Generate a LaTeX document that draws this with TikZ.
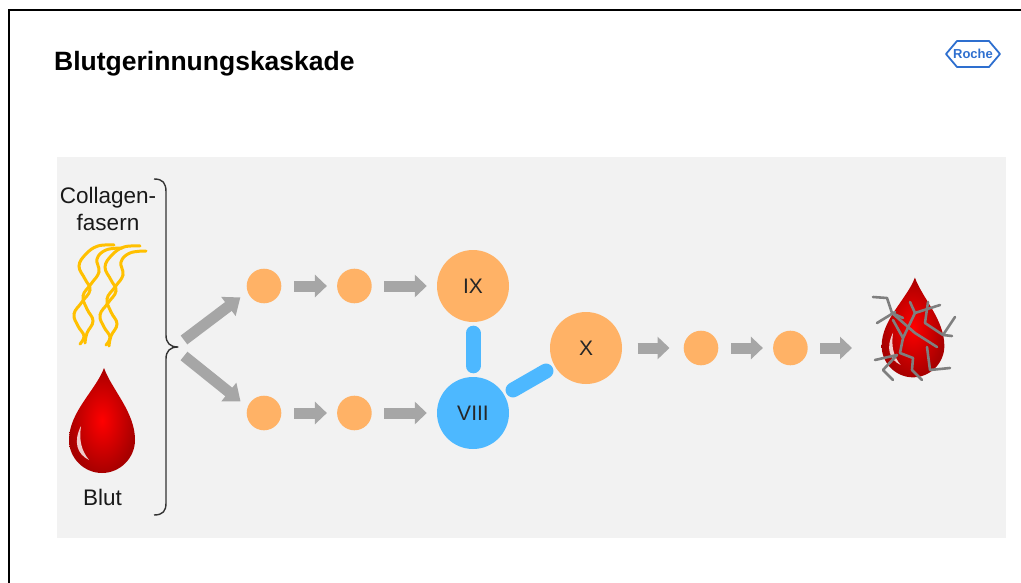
\documentclass[tikz,border=0pt]{standalone}
\usepackage{fontspec}
\setmainfont{Liberation Sans}
\usetikzlibrary{arrows.meta,positioning,calc}

\definecolor{panelgray}{HTML}{F2F2F2}
\definecolor{factororange}{HTML}{FFB266}
\definecolor{factorblue}{HTML}{4DB8FF}
\definecolor{arrowgray}{HTML}{A6A6A6}
\definecolor{fibreyellow}{HTML}{FFC000}
\definecolor{rocheblue}{HTML}{2E6FCF}
\definecolor{darkblood}{HTML}{A80000}
\definecolor{clotgray}{HTML}{7F7F7F}

% blood drop, origin at the centre of its round part
\tikzset{
  drop/.pic={
    \shade[inner color=red, outer color=darkblood]
      (2,-72) .. controls (10,-50) and (33,-28) .. (33,0)
      .. controls (33,18) and (18,33) .. (0,33)
      .. controls (-18,33) and (-33,18) .. (-33,0)
      .. controls (-33,-28) and (-6,-50) .. (2,-72) -- cycle;
    \fill[white, opacity=0.8]
      (-21,-14) .. controls (-29,2) and (-25,14) .. (-13,20)
      .. controls (-21,10) and (-23,0) .. (-21,-14) -- cycle;
  }
}

\begin{document}
\begin{tikzpicture}[x=1pt,y=-1pt,
    label text/.style={inner sep=0pt, anchor=base, font=\fontsize{22.5}{27}\selectfont, text=black!90},
    small factor/.style={circle, fill=factororange, minimum size=34.6pt, inner sep=0pt},
    big factor/.style={circle, fill=factororange, minimum size=72pt, inner sep=0pt, font=\fontsize{21}{25}\selectfont, text=black!85},
    step arrow/.style={arrowgray, line width=11pt, -{Triangle[width=22pt,length=12pt]}, shorten <=12.5pt, shorten >=10pt},
    fork arrow/.style={arrowgray, line width=11pt, -{Triangle[width=23pt,length=15pt]}, shorten >=9pt},
    link/.style={factorblue, line width=15pt, line cap=round, shorten <=11pt, shorten >=11pt},
    fibre/.style={fibreyellow, line width=3pt, line cap=round},
    clotline/.style={clotgray, line width=2.6pt, line join=round, line cap=round}]

    \useasboundingbox (0,0) rectangle (1021,583);

    % frame and panel
    \draw[line width=1.2pt] (9,583) -- (9,10) -- (1021,10);
    \fill[panelgray] (57,157) rectangle (1006,538);

    % heading and logo
    \node[inner sep=0pt, anchor=base west, font=\bfseries\fontsize{26.5}{31}\selectfont] (title) at (54,70.7) {Blutgerinnungskaskade};
    \node[inner sep=0pt, font=\bfseries\fontsize{13}{15}\selectfont, text=rocheblue] (roche) at (973,54) {Roche};
    \draw[rocheblue, line width=1.8pt, line join=round]
        ($(roche.center)+(-27,0)$) -- ++(11,-13) -- ++(32,0) -- ++(11,13)
        -- ++(-11,13) -- ++(-32,0) -- cycle;

    % collagen fibres
    \foreach \dx/\dy in {0/0, 26/1}{
        \begin{scope}[shift={(\dx,\dy)}]
            \draw[fibre] plot[smooth, tension=0.7] coordinates {(114,245) (98,246) (86,254) (79,266) (85,279) (90,290) (82,302) (74,314) (78,326) (84,336) (80,344)};
        \end{scope}
    }
    \foreach \dx/\dy in {0/0, 24/3}{
        \begin{scope}[shift={(\dx,\dy)}]
            \draw[fibre] plot[smooth, tension=0.7] coordinates {(122,248) (106,250) (97,259) (99,272) (91,284) (83,296) (87,309) (93,321) (87,333) (85,343)};
        \end{scope}
    }
    \node[label text] (collagen) at (108,203.3) {Collagen-};
    \node[label text] (fasern) at (108,230) {fasern};

    % blood
    \pic at (102,440) {drop};
    \node[label text] (blut) at (102.5,505) {Blut};

    % brace
    \draw[black!80, line width=1.4pt, line join=round]
        (154,179) .. controls (163,179) and (166,183) .. (166,192) -- (166,335)
        .. controls (166,343) and (170,347) .. (178,347)
        .. controls (170,347) and (166,351) .. (166,359) -- (166,503)
        .. controls (166,511) and (163,515) .. (154,515);
    \coordinate (forkup) at (184,340);
    \coordinate (forkdown) at (184,356);

    % factors
    \node[small factor] (a1) at (264,286) {};
    \node[small factor] (a2) [right=55.4pt of a1] {};
    \node[big factor] (IX) at (473,286) {IX};
    \node[small factor] (b1) at (264,413) {};
    \node[small factor] (b2) [right=55.4pt of b1] {};
    \node[big factor, fill=factorblue] (VIII) at (473,413) {VIII};
    \node[big factor] (X) at (586,348) {X};
    \node[small factor] (c1) at (701,348) {};
    \node[small factor] (c2) [right=54.4pt of c1] {};
    \coordinate (clot) at (862,348);

    \path
        (forkup) edge[fork arrow] (a1.200)
        (forkdown) edge[fork arrow] (b1.160)

        (a1) edge[step arrow] (a2)
        (a2) edge[step arrow] (IX)
        (b1) edge[step arrow] (b2)
        (b2) edge[step arrow] (VIII)

        (IX) edge[link] (VIII)
        (VIII) edge[link, shorten <=10pt, shorten >=10pt] (X)

        (X) edge[step arrow, shorten <=15.5pt, shorten >=14pt] (c1)
        (c1) edge[step arrow] (c2)
        (c2) edge[step arrow] (clot)
    ;

    % clot: drop caught in fibrin
    \pic[scale=0.95] at (913,346) {drop};
    \draw[clotline] (873,297) -- (887,298) -- (892,313) -- (903,318);
    \draw[clotline] (877,323) -- (895,312);
    \draw[clotline] (892,313) -- (915,333) -- (937,347);
    \draw[clotline] (910,302) -- (915,313) -- (940,305);
    \draw[clotline] (915,313) -- (903,338);
    \draw[clotline] (928,302) -- (925,323) -- (943,335) -- (955,317);
    \draw[clotline] (943,335) -- (952,336);
    \draw[clotline] (893,320) -- (903,338) -- (900,353) -- (913,358) -- (912,370) -- (922,380);
    \draw[clotline] (875,360) -- (897,355) -- (883,370) -- (893,380);
    \draw[clotline] (927,347) -- (930,370) -- (950,368);
\end{tikzpicture}
\end{document}
